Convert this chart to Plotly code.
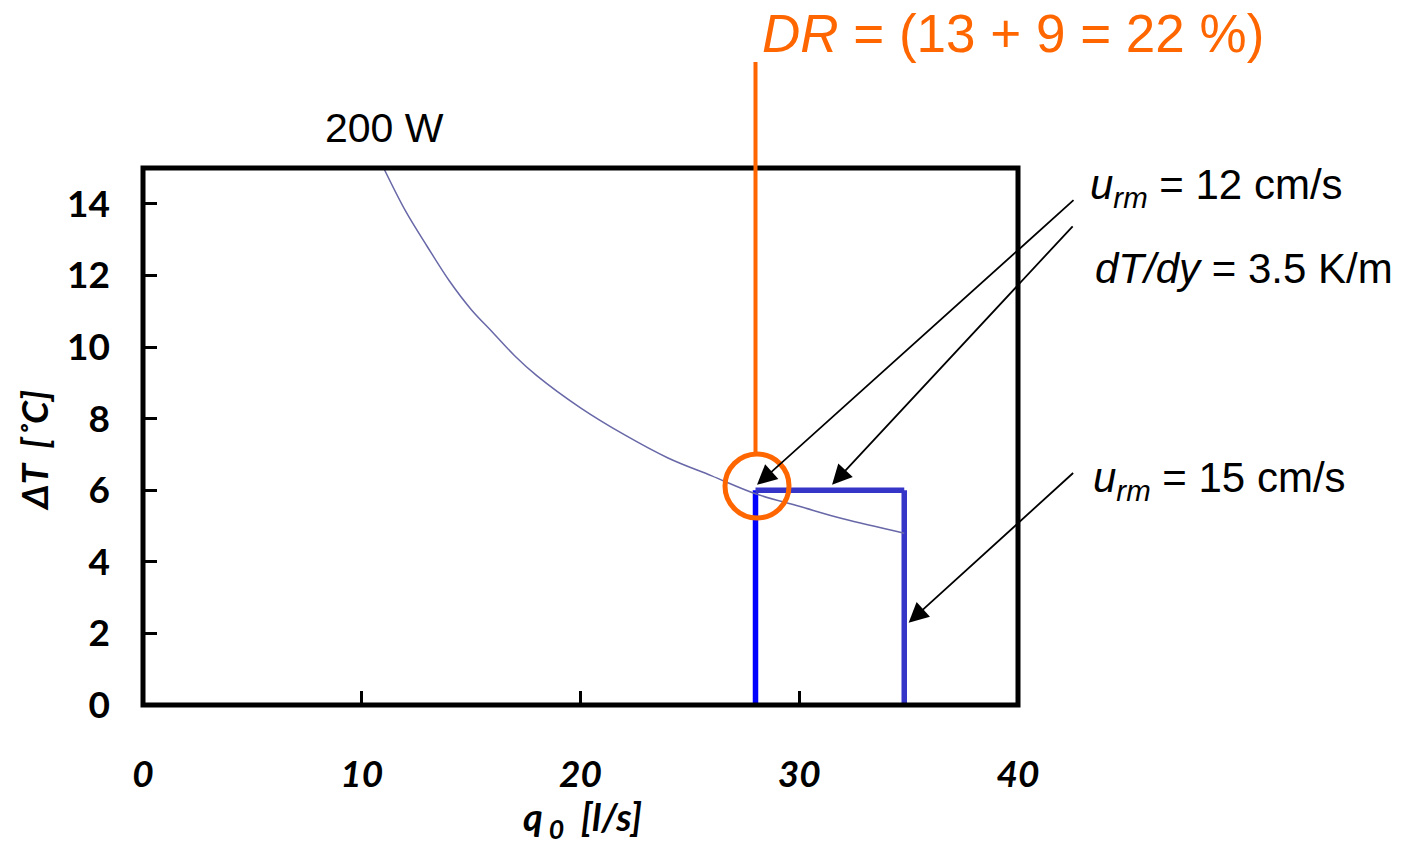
import plotly.graph_objects as go

# ---- data ----
q_curve = [11, 12, 13, 14, 15, 16, 17, 18, 20, 22, 24, 26, 28, 30, 32, 34.8]
dT_curve = [15.0, 13.8, 12.8, 11.85, 11.05, 10.4, 9.75, 9.2, 8.3, 7.55, 6.9, 6.4, 5.9, 5.55, 5.2, 4.8]

u12_q = [28, 28]
u12_dT = [0, 6]
dTdy_q = [28, 34.8]
dTdy_dT = [6, 6]
u15_q = [34.8, 34.8]
u15_dT = [6, 0]

x_ticks = [0, 10, 20, 30, 40]
y_ticks = [0, 2, 4, 6, 8, 10, 12, 14]

W, H = 1410, 848
L, R, T, B = 143, 392, 168, 143
PW, PH = W - L - R, H - T - B


def px(xp):
    return (xp - L) / PW


def py(yp):
    return (H - B - yp) / PH


ORANGE = "#FF6600"
TXT = "Liberation Sans, Arial, sans-serif"
AXF = "Lato, sans-serif"

fig = go.Figure()
fig.add_trace(go.Scatter(x=u12_q, y=u12_dT, mode="lines",
                         line=dict(color="#0000FF", width=5.5), showlegend=False))
fig.add_trace(go.Scatter(x=dTdy_q, y=dTdy_dT, mode="lines",
                         line=dict(color="#3535C8", width=5.5), showlegend=False))
fig.add_trace(go.Scatter(x=u15_q, y=u15_dT, mode="lines",
                         line=dict(color="#3535C8", width=5.5), showlegend=False))
fig.add_trace(go.Scatter(x=q_curve, y=dT_curve, mode="lines", line_shape="spline",
                         line=dict(color="#6868A8", width=1.5), showlegend=False))

shapes = [
    dict(type="rect", xref="paper", yref="paper", x0=0, x1=1, y0=0, y1=1,
         line=dict(color="black", width=5), layer="above"),
    dict(type="line", xref="paper", yref="paper", x0=0.7, x1=0.7,
         y0=py(454), y1=py(62), line=dict(color=ORANGE, width=4)),
    dict(type="circle", xref="paper", yref="paper",
         x0=px(757 - 32), x1=px(757 + 32), y0=py(486 + 32), y1=py(486 - 32),
         line=dict(color=ORANGE, width=5), layer="above"),
]

ann = [
    dict(text="200 W", xref="paper", yref="paper", x=px(384), y=py(128),
         xanchor="center", yanchor="middle", showarrow=False,
         font=dict(family=TXT, size=41, color="black")),
    dict(text="<i>DR</i> = (13 + 9 = 22 %)", xref="paper", yref="paper",
         x=px(1013), y=py(33), xanchor="center", yanchor="middle", showarrow=False,
         font=dict(family=TXT, size=53, color=ORANGE)),
    dict(text="<i>u<sub>rm</sub></i> = 12 cm/s", xref="paper", yref="paper",
         x=px(1088), y=py(187), xanchor="left", yanchor="middle", showarrow=False,
         font=dict(family=TXT, size=42, color="black")),
    dict(text="<i>dT/dy</i> = 3.5 K/m", xref="paper", yref="paper",
         x=px(1093), y=py(268), xanchor="left", yanchor="middle", showarrow=False,
         font=dict(family=TXT, size=42, color="black")),
    dict(text="<i>u<sub>rm</sub></i> = 15 cm/s", xref="paper", yref="paper",
         x=px(1091), y=py(480), xanchor="left", yanchor="middle", showarrow=False,
         font=dict(family=TXT, size=42, color="black")),
    # axis titles
    dict(text="<b><i>ΔT  [˚C]</i></b>", xref="paper", yref="paper",
         x=px(34), y=py(451), xanchor="center", yanchor="middle", textangle=-90,
         showarrow=False, font=dict(family=AXF, size=37, color="black")),
    dict(text="<b><i>q<sub> 0</sub>  [l/s]</i></b>", xref="paper", yref="paper",
         x=px(582), y=py(819), xanchor="center", yanchor="middle",
         showarrow=False, font=dict(family=AXF, size=38, color="black")),
]

# arrows: tip in data coords, tail offset in pixels
arrows = [
    (28.07, 6.15, 318, -286),
    (31.5, 6.15, 242, -260),
    (35.0, 2.3, 166, -151),
]
for xa, ya, ax, ay in arrows:
    ann.append(dict(text="", x=xa, y=ya, xref="x", yref="y", ax=ax, ay=ay,
                    axref="pixel", ayref="pixel", showarrow=True, arrowhead=2,
                    arrowsize=2.2, arrowwidth=1.8, arrowcolor="black", standoff=0))

fig.update_layout(
    width=W, height=H,
    margin=dict(l=L, r=R, t=T, b=B, pad=0),
    paper_bgcolor="white", plot_bgcolor="white",
    shapes=shapes, annotations=ann,
    xaxis=dict(range=[0, 40], tickvals=x_ticks, ticktext=[str(v) for v in x_ticks],
               showgrid=False, zeroline=False, showline=False,
               ticks="inside", ticklen=14, tickwidth=2.5, tickcolor="black",
               ticklabelstandoff=44,
               tickfont=dict(family=AXF, size=37, color="black", weight="bold", style="italic")),
    yaxis=dict(range=[0, 15], tickvals=y_ticks, ticktext=[str(v) for v in y_ticks],
               showgrid=False, zeroline=False, showline=False,
               ticks="inside", ticklen=14, tickwidth=2.5, tickcolor="black",
               ticklabelstandoff=32,
               tickfont=dict(family=AXF, size=37, color="black", weight="bold")),
)

fig.write_html("out.html")
